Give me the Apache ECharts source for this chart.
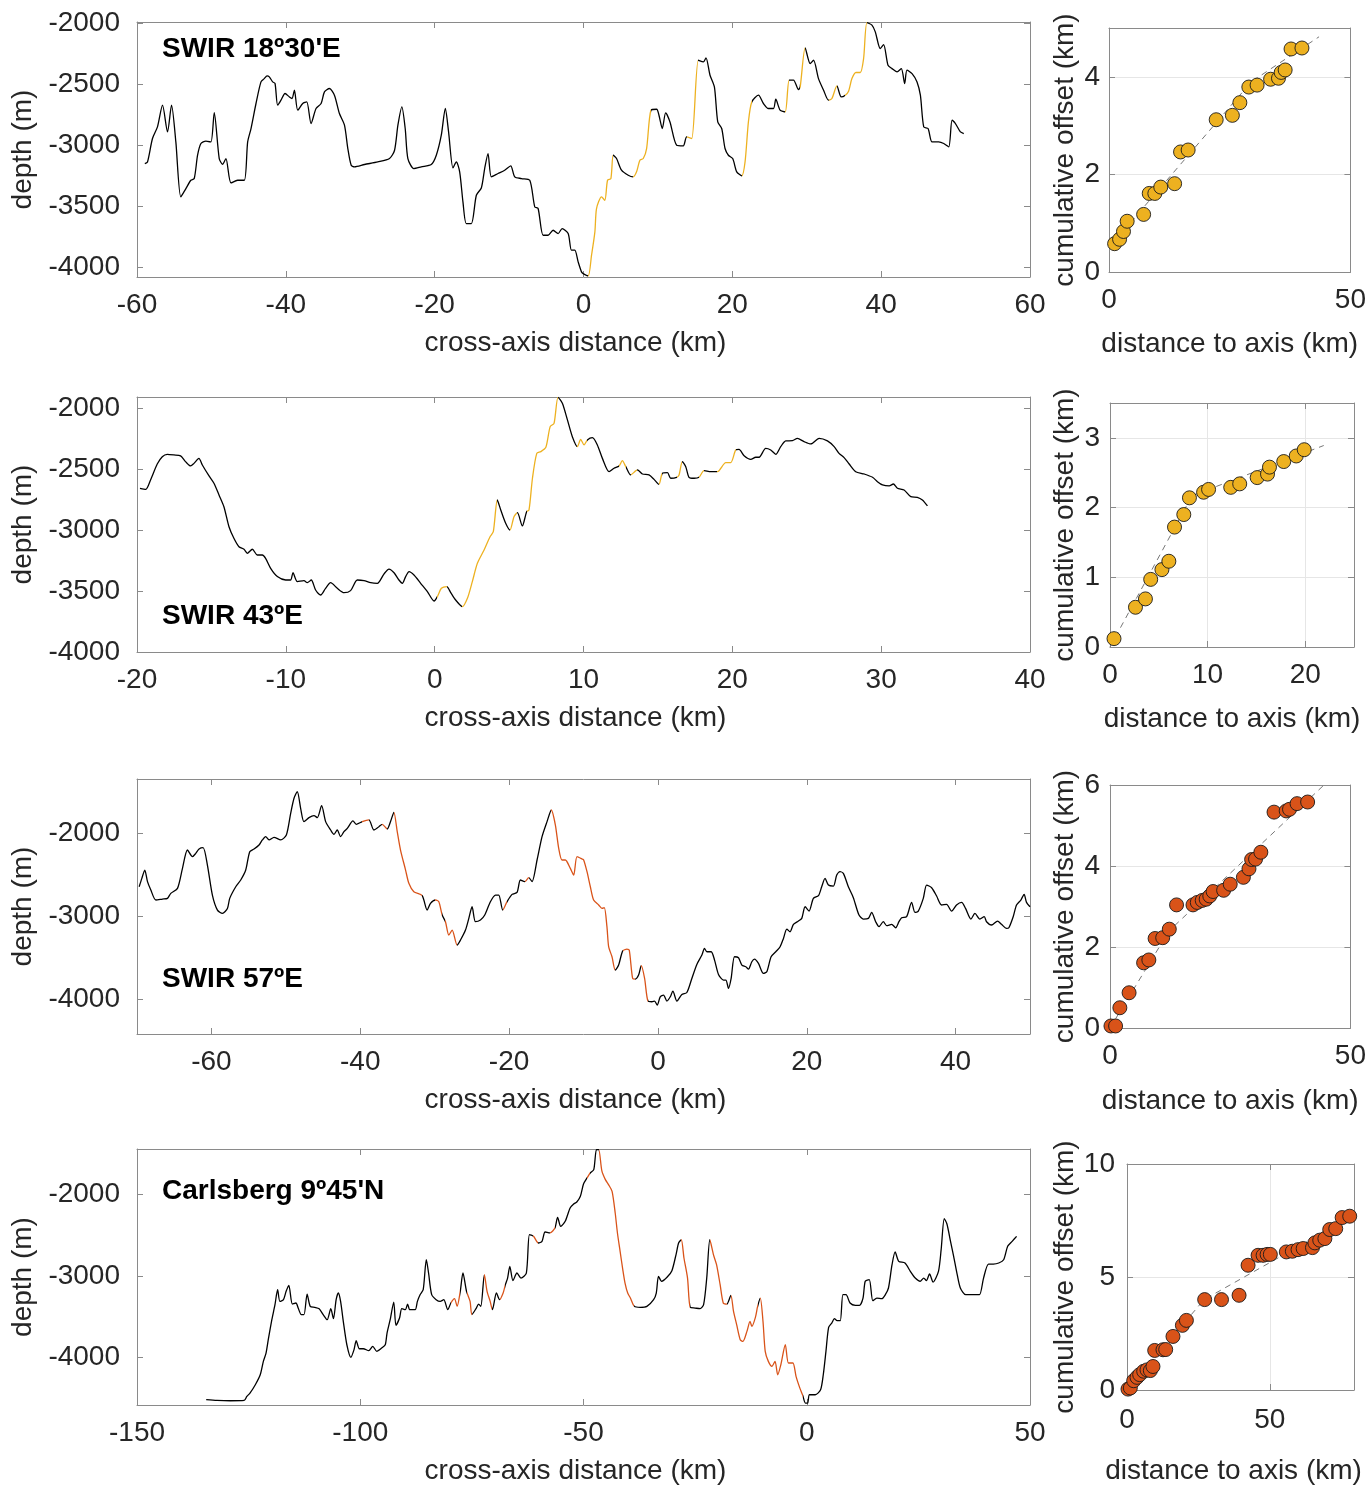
<!DOCTYPE html>
<html>
<head>
<meta charset="utf-8">
<script src="https://cdn.jsdelivr.net/npm/echarts@6/dist/echarts.min.js"></script>
<style>
html, body { margin: 0; padding: 0; background: #fff; }
#chart { width: 1369px; height: 1486px; }
</style>
</head>
<body>
<div id="chart"></div>
<script>
// Bathymetric cross-axis profiles: [distance (km), depth (m)]
const swir18Profile = [
  [-58.95,-3150],[-58.59,-3137],[-57.92,-2945],[-57.25,-2850],[-56.57,-2672],[-55.90,-2891],[-55.36,-2672],[-54.78,-2973],[-54.11,-3423],[-53.43,-3355],
  [-52.76,-3287],[-52.31,-3273],[-51.86,-3082],[-51.41,-2986],[-50.74,-2967],[-50.07,-2973],[-49.62,-2732],[-48.95,-3109],[-48.50,-3156],[-48.05,-3109],
  [-47.37,-3309],[-46.48,-3287],[-45.58,-3287],[-45.13,-2973],[-44.68,-2863],[-44.01,-2658],[-43.34,-2481],[-42.89,-2454],[-42.53,-2432],[-42.22,-2440],
  [-41.77,-2481],[-41.45,-2494],[-41.10,-2672],[-40.65,-2631],[-40.11,-2576],[-39.52,-2604],[-39.17,-2617],[-38.85,-2549],[-38.40,-2713],[-37.73,-2658],
  [-37.19,-2645],[-36.61,-2822],[-35.94,-2699],[-35.26,-2658],[-34.81,-2563],[-34.14,-2535],[-33.47,-2590],[-32.80,-2740],[-32.12,-2836],[-31.67,-3027],
  [-31.22,-3164],[-30.78,-3177],[-29.43,-3158],[-27.64,-3137],[-26.07,-3109],[-25.39,-3041],[-24.94,-2836],[-24.41,-2686],[-23.96,-2863],[-23.60,-3109],
  [-22.79,-3191],[-21.80,-3177],[-20.46,-3158],[-19.78,-3082],[-19.11,-2918],[-18.57,-2699],[-18.13,-2891],[-17.54,-3186],[-17.09,-3137],[-16.64,-3218],
  [-16.20,-3464],[-15.75,-3642],[-15.07,-3642],[-14.40,-3410],[-13.73,-3350],[-13.28,-3191],[-12.83,-3068],[-12.38,-3259],[-11.49,-3232],[-10.59,-3205],
  [-9.78,-3169],[-9.24,-3259],[-8.34,-3273],[-7.22,-3287],[-6.55,-3505],[-6.10,-3519],[-5.43,-3738],[-4.76,-3738],[-4.08,-3697],[-3.41,-3724],
  [-2.87,-3683],[-2.06,-3724],[-1.62,-3860],[-1.17,-3860],[-0.72,-3956],[-0.27,-4038],[-0.04,-4052],[0.63,-4071],[1.08,-3901],[1.53,-3710],
  [1.75,-3519],[2.42,-3423],[2.87,-3451],[3.23,-3287],[3.68,-3273],[3.99,-3082],[4.44,-3109],[5.11,-3205],[6.01,-3246],[6.68,-3259],
  [7.13,-3218],[7.58,-3123],[8.03,-3109],[8.48,-3027],[9.06,-2713],[9.83,-2705],[10.14,-2754],[10.59,-2863],[11.04,-2735],[11.62,-2809],
  [12.52,-3000],[13.41,-3005],[13.86,-2932],[14.54,-2945],[15.43,-2303],[16.11,-2317],[16.46,-2284],[17.00,-2426],[17.59,-2522],[18.04,-2809],
  [18.57,-2863],[19.02,-3027],[19.47,-3082],[20.05,-3109],[20.59,-3218],[21.27,-3251],[21.71,-3137],[22.16,-2809],[22.61,-2645],[23.51,-2590],
  [24.18,-2658],[24.85,-2699],[25.53,-2699],[25.84,-2623],[26.42,-2713],[27.10,-2727],[27.64,-2467],[28.22,-2467],[28.89,-2544],[29.12,-2522],
  [29.79,-2202],[30.46,-2331],[30.91,-2303],[31.58,-2454],[32.26,-2549],[32.93,-2631],[33.38,-2617],[34.05,-2514],[34.63,-2604],[35.17,-2590],
  [35.62,-2557],[36.07,-2454],[36.61,-2404],[37.19,-2404],[37.64,-2289],[38.09,-1995],[38.76,-2016],[39.21,-2071],[39.88,-2208],[40.33,-2175],
  [40.92,-2344],[41.45,-2372],[42.13,-2399],[42.71,-2372],[43.16,-2495],[43.47,-2385],[44.15,-2413],[44.82,-2481],[45.27,-2590],[45.72,-2850],
  [46.30,-2863],[46.84,-2973],[47.73,-2973],[48.41,-2986],[49.08,-3014],[49.53,-2795],[49.98,-2822],[50.65,-2891],[51.10,-2904]
];
const swir43Profile = [
  [-19.80,-2658],[-19.41,-2667],[-19.09,-2590],[-18.64,-2459],[-18.30,-2399],[-17.97,-2380],[-17.52,-2385],[-17.07,-2393],[-16.74,-2440],[-16.40,-2475],
  [-16.17,-2454],[-15.84,-2413],[-15.61,-2467],[-15.16,-2557],[-14.83,-2617],[-14.49,-2713],[-14.16,-2809],[-13.82,-2973],[-13.49,-3068],[-13.15,-3137],
  [-12.81,-3158],[-12.59,-3191],[-12.25,-3158],[-11.92,-3205],[-11.58,-3205],[-11.36,-3232],[-11.02,-3314],[-10.57,-3382],[-10.01,-3410],[-9.68,-3410],
  [-9.52,-3350],[-9.23,-3423],[-8.78,-3415],[-8.56,-3432],[-8.29,-3410],[-8.00,-3492],[-7.66,-3533],[-7.33,-3478],[-6.99,-3432],[-6.54,-3478],
  [-6.09,-3514],[-5.65,-3497],[-5.20,-3410],[-4.75,-3415],[-4.30,-3432],[-3.85,-3437],[-3.41,-3361],[-3.07,-3320],[-2.73,-3350],[-2.40,-3410],
  [-2.17,-3437],[-1.95,-3382],[-1.72,-3341],[-1.39,-3369],[-0.94,-3437],[-0.49,-3505],[-0.04,-3582],[0.18,-3546],[0.45,-3478],[0.81,-3464],
  [1.08,-3514],[1.41,-3574],[1.86,-3628],[2.20,-3560],[2.53,-3423],[2.87,-3273],[3.32,-3164],[3.72,-3055],[3.94,-3014],[4.21,-2754],
  [4.44,-2836],[4.77,-2945],[5.06,-3000],[5.33,-2891],[5.56,-2858],[5.89,-2967],[6.18,-2850],[6.34,-2836],[6.57,-2576],[6.86,-2372],
  [7.13,-2358],[7.47,-2322],[7.76,-2153],[8.02,-2126],[8.29,-1913],[8.58,-1962],[8.92,-2098],[9.25,-2235],[9.59,-2317],[9.81,-2257],
  [10.04,-2303],[10.26,-2262],[10.60,-2243],[10.93,-2303],[11.27,-2413],[11.72,-2522],[12.05,-2494],[12.39,-2475],[12.61,-2432],[12.84,-2481],
  [13.17,-2549],[13.62,-2508],[13.96,-2541],[14.40,-2549],[14.74,-2585],[15.07,-2626],[15.30,-2535],[15.64,-2530],[15.86,-2576],[16.26,-2568],
  [16.42,-2549],[16.64,-2440],[16.87,-2481],[17.09,-2568],[17.43,-2576],[17.76,-2568],[18.10,-2514],[18.55,-2522],[19.00,-2522],[19.56,-2448],
  [19.89,-2448],[20.23,-2344],[20.45,-2339],[20.79,-2391],[21.24,-2421],[21.57,-2404],[21.80,-2404],[22.24,-2331],[22.58,-2344],[22.92,-2380],
  [23.25,-2317],[23.59,-2270],[24.04,-2268],[24.37,-2249],[24.82,-2276],[25.27,-2295],[25.83,-2249],[26.39,-2270],[26.84,-2317],[27.17,-2372],
  [27.51,-2407],[27.85,-2459],[28.29,-2522],[28.85,-2541],[29.42,-2568],[29.75,-2604],[30.09,-2631],[30.54,-2639],[30.82,-2623],[31.09,-2658],
  [31.54,-2672],[31.99,-2727],[32.43,-2732],[32.77,-2754],[33.11,-2803]
];
const swir57Profile = [
  [-69.71,-2647],[-69.35,-2546],[-68.95,-2446],[-68.59,-2586],[-68.14,-2687],[-67.47,-2807],[-66.58,-2795],[-65.91,-2787],[-65.46,-2727],[-64.56,-2667],
  [-63.89,-2426],[-63.22,-2205],[-62.55,-2285],[-62.10,-2245],[-61.66,-2193],[-61.12,-2177],[-60.54,-2386],[-59.87,-2747],[-59.19,-2928],[-58.52,-2968],
  [-57.85,-2908],[-57.54,-2787],[-56.73,-2647],[-56.06,-2566],[-55.39,-2446],[-54.85,-2225],[-54.27,-2193],[-53.60,-2145],[-53.15,-2084],[-52.71,-2044],
  [-52.26,-2084],[-51.59,-2052],[-50.69,-2084],[-49.93,-2024],[-49.35,-1763],[-48.90,-1582],[-48.46,-1502],[-48.01,-1703],[-47.56,-1863],[-46.89,-1815],
  [-46.22,-1791],[-45.77,-1815],[-45.19,-1671],[-44.65,-1863],[-43.98,-1964],[-43.53,-2016],[-43.09,-1964],[-42.64,-2044],[-42.19,-1984],[-41.74,-1944],
  [-40.98,-1855],[-40.54,-1896],[-39.73,-1863],[-38.84,-1843],[-38.17,-1964],[-37.49,-1924],[-37.05,-1896],[-36.38,-1952],[-35.93,-1863],[-35.48,-1751],
  [-35.03,-1984],[-34.59,-2205],[-33.91,-2446],[-33.47,-2606],[-32.80,-2707],[-31.68,-2755],[-31.01,-2928],[-30.56,-2847],[-29.89,-2807],[-29.44,-2827],
  [-28.99,-2988],[-28.55,-3068],[-28.10,-3229],[-27.65,-3169],[-26.98,-3349],[-26.53,-3289],[-25.86,-3169],[-25.41,-3028],[-24.97,-2888],[-24.52,-3068],
  [-23.85,-3048],[-23.27,-2988],[-22.51,-2827],[-21.83,-2747],[-21.39,-2747],[-20.85,-2928],[-20.27,-2827],[-19.60,-2739],[-18.93,-2715],[-18.48,-2566],
  [-17.90,-2586],[-17.36,-2538],[-16.91,-2586],[-16.24,-2325],[-15.57,-2044],[-14.90,-1863],[-14.32,-1723],[-13.78,-1904],[-13.33,-2185],[-12.89,-2325],
  [-12.44,-2325],[-11.77,-2426],[-11.32,-2506],[-10.87,-2285],[-10.20,-2313],[-9.98,-2325],[-9.53,-2466],[-9.08,-2647],[-8.64,-2807],[-7.96,-2867],
  [-7.52,-2908],[-7.20,-2900],[-6.85,-3128],[-6.62,-3369],[-6.17,-3490],[-5.73,-3651],[-5.28,-3590],[-4.74,-3422],[-4.16,-3398],[-3.85,-3410],
  [-3.40,-3751],[-3.04,-3759],[-2.60,-3711],[-2.24,-3598],[-1.79,-3751],[-1.34,-4024],[-0.81,-4032],[-0.45,-4024],[-0.09,-4072],[0.31,-3972],
  [0.76,-3952],[1.21,-4024],[1.66,-3972],[2.01,-3904],[2.55,-4024],[3.22,-3944],[3.89,-3920],[4.56,-3751],[5.23,-3582],[5.91,-3470],
  [6.26,-3390],[6.58,-3430],[7.16,-3430],[7.61,-3530],[8.14,-3703],[8.81,-3771],[9.13,-3771],[9.49,-3871],[9.84,-3751],[10.29,-3490],
  [10.83,-3502],[11.28,-3590],[11.81,-3610],[12.17,-3639],[12.62,-3550],[12.98,-3518],[13.51,-3570],[14.18,-3691],[14.63,-3671],[15.21,-3490],
  [15.84,-3430],[16.42,-3369],[16.87,-3269],[17.32,-3157],[17.76,-3189],[18.21,-3100],[18.88,-3060],[19.33,-3028],[19.78,-2888],[20.31,-2940],
  [20.89,-2787],[21.57,-2755],[22.01,-2647],[22.46,-2546],[22.91,-2627],[23.58,-2639],[24.03,-2506],[24.47,-2466],[24.92,-2486],[25.59,-2647],
  [26.26,-2779],[27.02,-2988],[27.61,-3036],[28.28,-3028],[28.72,-2956],[29.26,-3068],[29.71,-3128],[30.29,-3068],[30.74,-3116],[31.41,-3100],
  [31.95,-3141],[32.39,-3068],[32.75,-3020],[33.42,-3008],[34.09,-2835],[34.54,-2956],[34.99,-2940],[35.66,-2787],[36.11,-2627],[36.78,-2659],
  [37.45,-2759],[38.12,-2867],[38.79,-2859],[39.46,-2940],[40.13,-2867],[40.81,-2835],[41.34,-2908],[42.06,-3036],[42.60,-2968],[43.27,-3036],
  [43.85,-3008],[44.16,-3068],[44.83,-3108],[45.64,-3060],[46.17,-3100],[46.85,-3149],[47.16,-3141],[47.74,-3008],[48.19,-2867],[48.77,-2807],
  [49.21,-2739],[49.53,-2835],[50.00,-2888]
];
const carlsbergProfile = [
  [-134.5,-4515],[-132.1,-4524],[-129.1,-4528],[-126.0,-4524],[-125.4,-4474],[-124.7,-4434],[-123.5,-4331],[-122.4,-4209],[-121.7,-4045],[-121.1,-3943],
  [-120.6,-3779],[-119.8,-3534],[-119.1,-3350],[-118.5,-3166],[-118.0,-3309],[-117.2,-3288],[-116.6,-3186],[-116.0,-3112],[-115.2,-3342],[-114.4,-3329],
  [-113.9,-3391],[-113.2,-3472],[-112.6,-3472],[-111.9,-3219],[-111.2,-3370],[-110.2,-3382],[-109.2,-3399],[-108.3,-3472],[-107.4,-3534],[-106.6,-3399],
  [-106.0,-3521],[-105.4,-3288],[-104.9,-3206],[-104.4,-3309],[-103.8,-3554],[-103.0,-3841],[-102.1,-3996],[-101.4,-3902],[-100.9,-3791],[-100.2,-3890],
  [-99.3,-3890],[-98.1,-3914],[-97.2,-3861],[-96.3,-3922],[-95.2,-3881],[-94.4,-3841],[-94.0,-3697],[-93.3,-3534],[-92.5,-3317],[-92.0,-3603],
  [-91.2,-3513],[-90.7,-3399],[-89.9,-3411],[-89.4,-3342],[-88.9,-3411],[-87.7,-3411],[-87.2,-3309],[-86.6,-3227],[-85.9,-3166],[-85.2,-2798],
  [-84.7,-2961],[-84.0,-3227],[-83.0,-3288],[-82.1,-3309],[-81.3,-3288],[-80.4,-3411],[-79.7,-3329],[-78.9,-3276],[-78.3,-3370],[-77.6,-3186],
  [-77.0,-2961],[-76.2,-3186],[-75.4,-3309],[-75.0,-3472],[-74.0,-3391],[-73.5,-3342],[-73.0,-3370],[-72.2,-2982],[-71.6,-3186],[-70.9,-3309],
  [-70.4,-3411],[-69.5,-3206],[-68.8,-3288],[-68.0,-3206],[-67.5,-3104],[-67.0,-3023],[-66.5,-2879],[-65.8,-3055],[-64.9,-2961],[-64.0,-3023],
  [-62.8,-2961],[-62.1,-2491],[-61.2,-2511],[-60.1,-2593],[-59.3,-2573],[-58.6,-2458],[-57.5,-2470],[-56.4,-2409],[-55.8,-2278],[-55.1,-2389],
  [-54.1,-2327],[-53.0,-2164],[-52.2,-2115],[-51.5,-2090],[-50.7,-2020],[-50.0,-1869],[-49.2,-1795],[-48.5,-1734],[-47.7,-1693],[-47.1,-1448],
  [-46.6,-1448],[-45.9,-1705],[-45.1,-1816],[-44.4,-1877],[-43.6,-1959],[-42.9,-2225],[-42.4,-2470],[-41.8,-2695],[-41.2,-2920],[-40.7,-3084],
  [-40.1,-3207],[-39.5,-3268],[-38.6,-3370],[-37.3,-3382],[-35.8,-3370],[-34.3,-3288],[-33.7,-3207],[-33.2,-3002],[-32.5,-3063],[-31.3,-3014],
  [-30.2,-2933],[-29.2,-2716],[-28.7,-2593],[-28.1,-2552],[-27.5,-2777],[-26.7,-3023],[-26.1,-3382],[-25.0,-3391],[-23.9,-3399],[-23.1,-3350],
  [-22.4,-3023],[-21.7,-2552],[-20.9,-2736],[-20.2,-2859],[-19.4,-3104],[-18.7,-3329],[-17.9,-3342],[-17.0,-3235],[-16.4,-3432],[-15.7,-3595],
  [-14.9,-3779],[-14.3,-3800],[-13.4,-3677],[-12.7,-3554],[-12.3,-3616],[-11.5,-3505],[-11.0,-3370],[-10.4,-3268],[-9.8,-3554],[-9.3,-3922],
  [-8.6,-4045],[-7.8,-4106],[-7.1,-4045],[-6.5,-4209],[-5.8,-4086],[-4.8,-3841],[-4.1,-4065],[-3.1,-4065],[-2.4,-4229],[-1.6,-4364],
  [-0.9,-4462],[-0.3,-4556],[0.2,-4556],[0.6,-4454],[1.9,-4454],[3.1,-4393],[3.7,-4209],[4.3,-3922],[4.9,-3628],[5.6,-3575],
  [6.2,-3521],[6.8,-3546],[7.5,-3546],[8.1,-3227],[8.8,-3227],[9.7,-3329],[10.9,-3358],[11.8,-3358],[12.6,-3268],[13.1,-3063],
  [14.0,-3043],[14.8,-3301],[15.7,-3268],[16.8,-3276],[17.6,-3227],[18.3,-3145],[19.1,-2859],[19.8,-2703],[20.6,-2818],[22.0,-2838],
  [23.2,-2941],[24.3,-3023],[25.4,-3063],[26.2,-3023],[26.8,-3055],[27.5,-2973],[28.3,-3072],[29.5,-2941],[30.1,-2675],[30.8,-2294],
  [31.4,-2360],[32.2,-2573],[32.9,-2757],[33.7,-2982],[34.4,-3145],[35.6,-3227],[36.7,-3227],[37.8,-3227],[38.7,-3227],[39.6,-3023],
  [40.7,-2851],[41.8,-2851],[43.0,-2838],[44.1,-2798],[45.0,-2634],[46.0,-2573],[47.0,-2511]
];

// Fault-scarp stretches along each profile, [from, to] in km
const swir18Faults = [[0.6,3.99],[6.68,9.06],[13.86,15.43],[21.27,22.61],[27.1,27.64],[29.12,29.79],[32.93,34.05],[35.17,38.09]];
const swir43Faults = [[0.18,0.81],[1.86,4.21],[5.06,5.56],[6.18,8.29],[9.59,10.26],[12.39,12.84],[13.17,13.62],[15.07,15.3],[16.26,16.64],[17.76,18.1],[19.0,20.23]];
const swir57Faults = [[-39.73,-38.84],[-37.05,-36.38],[-35.48,-31.68],[-29.89,-28.99],[-28.55,-26.98],[-20.85,-20.27],[-17.9,-17.36],[-14.32,-5.73],[-4.74,-3.04],[-2.24,-1.34]];
const carlsbergFaults = [[-79.7,-77.6],[-76.2,-75.0],[-72.2,-70.4],[-68.8,-67.5],[-61.2,-60.1],[-57.5,-56.4],[-49.2,-48.5],[-46.6,-38.6],[-28.1,-26.1],[-21.7,-17.9],[-17.0,-11.0],[-10.4,-0.9]];

// Cumulative fault offset vs distance to axis: [distance (km), offset (km)]
const swir18Offsets = [[1.16,0.58],[2.19,0.67],[3.0,0.83],[3.76,1.04],[7.17,1.18],[8.33,1.61],[9.49,1.61],[10.72,1.74],[13.59,1.81],[14.82,2.46],[16.39,2.50],
  [22.2,3.12],[25.55,3.21],[27.1,3.47],[28.96,3.79],[30.67,3.83],[33.47,3.95],[35.1,3.97],[35.66,4.09],[36.48,4.14],[37.7,4.57],[39.96,4.59]];
const swir43Offsets = [[0.41,0.12],[2.61,0.57],[3.63,0.69],[4.17,0.97],[5.32,1.11],[6.03,1.23],[6.61,1.72],[7.56,1.90],[8.14,2.14],[9.59,2.22],
  [10.10,2.26],[12.37,2.29],[13.29,2.34],[15.08,2.43],[16.14,2.48],[16.34,2.58],[17.80,2.66],[19.08,2.74],[19.90,2.83]];
const swir57Offsets = [[0.2,0.05],[1.16,0.05],[2.05,0.50],[3.97,0.87],[6.99,1.61],[8.08,1.68],[9.38,2.21],[10.96,2.23],[12.33,2.44],[13.84,3.04],
  [17.26,3.04],[18.15,3.10],[19.18,3.15],[20.0,3.18],[20.75,3.26],[21.44,3.37],[23.63,3.40],[25.0,3.55],[27.74,3.72],[28.9,3.93],
  [29.45,4.16],[30.27,4.17],[31.37,4.34],[34.11,5.33],[36.64,5.36],[37.33,5.40],[38.9,5.54],[41.1,5.58]];
const carlsbergOffsets = [[0.35,0.04],[1.17,0.09],[2.34,0.41],[3.5,0.56],[4.44,0.68],[5.84,0.83],[7.0,0.89],[8.18,0.86],[9.1,1.04],[9.7,1.75],
  [12.6,1.78],[13.55,1.79],[16.1,2.37],[19.4,2.86],[20.8,3.08],[27.2,4.0],[33.1,4.0],[39.25,4.19],[42.4,5.52],[45.9,5.96],
  [47.66,5.96],[49.07,6.0],[50.2,6.0],[55.8,6.11],[57.9,6.14],[59.9,6.21],[61.7,6.26],[64.95,6.30],[65.8,6.51],[67.5,6.63],
  [69.3,6.70],[71.0,7.10],[73.1,7.14],[75.35,7.63],[78.0,7.69]];

// Linear trends through the offsets
const swir18Trend = [[0,0.5],[29.5,3.9],[43.5,4.82]];
const swir43Trend = [[0,0],[8.4,2.17],[21.9,2.89]];
const swir57Trend = [[0,0],[12.3,2.4],[44.5,6.0]];
const carlsbergTrend = [[0,0],[27,4.0],[79,7.7]];

// Tick values
const swir18DistTicks = [-60,-40,-20,0,20,40,60];
const swir43DistTicks = [-20,-10,0,10,20,30,40];
const swir57DistTicks = [-60,-40,-20,0,20,40];
const carlsbergDistTicks = [-150,-100,-50,0,50];
const depthTicksFine = [-4000,-3500,-3000,-2500,-2000];
const depthTicksCoarse = [-4000,-3000,-2000];
const swir18AxisTicks = [0,50], swir18OffsetTicks = [0,2,4];
const swir43AxisTicks = [0,10,20], swir43OffsetTicks = [0,1,2,3];
const swir57AxisTicks = [0,50], swir57OffsetTicks = [0,2,4,6];
const carlsbergAxisTicks = [0,50], carlsbergOffsetTicks = [0,5,10];

const YELLOW = '#EDB120';
const RED = '#D95319';
const FONT = '"Liberation Sans", Arial, Helvetica, sans-serif';
const TEXT = '#262626';
const BOX = '#8a8a8a';

const panels = [
  { title: "SWIR 18º30'E", titleTop: 35, profile: swir18Profile, faults: swir18Faults, offsets: swir18Offsets, trend: swir18Trend, color: YELLOW,
    grid: { left: 137, top: 22, width: 893, height: 255 }, xRange: [-60, 60], xTicks: swir18DistTicks, yRange: [-4080, -1990], yTicks: depthTicksFine,
    sGrid: { left: 1109, top: 28, width: 244, height: 244 }, sxRange: [0, 50], sxTicks: swir18AxisTicks, sxStep: 50, syRange: [0, 5], syTicks: swir18OffsetTicks, syStep: 2,
    sNameGapX: 58, sNameGapY: 30, sLabelX: 14, sLabelY: 9, sNameShift: 0 },
  { title: "SWIR 43ºE", titleTop: 602, profile: swir43Profile, faults: swir43Faults, offsets: swir43Offsets, trend: swir43Trend, color: YELLOW,
    grid: { left: 137, top: 397, width: 893, height: 255 }, xRange: [-20, 40], xTicks: swir43DistTicks, yRange: [-4000, -1910], yTicks: depthTicksFine,
    sGrid: { left: 1110, top: 403, width: 244, height: 244 }, sxRange: [0, 25], sxTicks: swir43AxisTicks, sxStep: 10, syRange: [0, 3.5], syTicks: swir43OffsetTicks, syStep: 1,
    sNameGapX: 58, sNameGapY: 31, sLabelX: 14, sLabelY: 10, sNameShift: 0 },
  { title: "SWIR 57ºE", titleTop: 965, profile: swir57Profile, faults: swir57Faults, offsets: swir57Offsets, trend: swir57Trend, color: RED,
    grid: { left: 137, top: 779, width: 893, height: 255 }, xRange: [-70, 50], xTicks: swir57DistTicks, yRange: [-4420, -1350], yTicks: depthTicksCoarse,
    sGrid: { left: 1110, top: 785, width: 243, height: 243 }, sxRange: [0, 50], sxTicks: swir57AxisTicks, sxStep: 50, syRange: [0, 6], syTicks: swir57OffsetTicks, syStep: 2,
    sNameGapX: 59, sNameGapY: 31, sLabelX: 14, sLabelY: 10, sNameShift: 0 },
  { title: "Carlsberg 9º45'N", titleTop: 1177, profile: carlsbergProfile, faults: carlsbergFaults, offsets: carlsbergOffsets, trend: carlsbergTrend, color: RED,
    grid: { left: 137, top: 1149, width: 893, height: 256 }, xRange: [-150, 50], xTicks: carlsbergDistTicks, yRange: [-4580, -1440], yTicks: depthTicksCoarse,
    sGrid: { left: 1127, top: 1164, width: 227, height: 226 }, sxRange: [0, 79.5], sxTicks: carlsbergAxisTicks, sxStep: 50, syRange: [0, 10], syTicks: carlsbergOffsetTicks, syStep: 5,
    sNameGapX: 67, sNameGapY: 48, sLabelX: 16, sLabelY: 12, sNameShift: 14 }
];

const grids = [], xAxes = [], yAxes = [], series = [], visualMaps = [], graphics = [];

function labelledAxis(gridIndex, position, range, ticks, name, nameGap, margin, step, shift) {
  return {
    type: 'value', gridIndex, position, min: range[0], max: range[1],
    name, nameLocation: 'middle', nameGap,
    nameTextStyle: { fontFamily: FONT, fontSize: 28, color: TEXT, padding: [0, shift || 0, 0, 0] },
    axisLine: { show: true, onZero: false, lineStyle: { color: BOX, width: 1 } },
    axisTick: { show: true, inside: true, length: 6, customValues: ticks, lineStyle: { color: BOX } },
    axisLabel: { show: true, customValues: ticks, margin, fontFamily: FONT, fontSize: 28, color: TEXT,
                 formatter: v => String(v) },
    splitLine: step ? { show: true, lineStyle: { color: '#e6e6e6', width: 1 } } : { show: false },
    interval: step ? step : undefined
  };
}
function mirrorAxis(gridIndex, position, range, ticks) {
  return {
    type: 'value', gridIndex, position, min: range[0], max: range[1],
    axisLine: { show: true, onZero: false, lineStyle: { color: BOX, width: 1 } },
    axisTick: { show: true, inside: true, length: 6, customValues: ticks, lineStyle: { color: BOX } },
    axisLabel: { show: false }, splitLine: { show: false }
  };
}

panels.forEach((p) => {
  // depth profile, with fault scarps coloured along the distance axis
  const g = grids.length;
  grids.push(Object.assign({ containLabel: false }, p.grid));
  const xi = xAxes.length;
  xAxes.push(labelledAxis(g, 'bottom', p.xRange, p.xTicks, 'cross-axis distance (km)', 52, 14, 0, 16));
  xAxes.push(mirrorAxis(g, 'top', p.xRange, p.xTicks));
  const yi = yAxes.length;
  yAxes.push(labelledAxis(g, 'left', p.yRange, p.yTicks, 'depth (m)', 95, 17));
  yAxes.push(mirrorAxis(g, 'right', p.yRange, p.yTicks));
  visualMaps.push({
    type: 'piecewise', show: false, dimension: 0, seriesIndex: series.length,
    pieces: p.faults.map(([a, b]) => ({ gte: a, lte: b, color: p.color })),
    outOfRange: { color: '#000000' }
  });
  series.push({
    type: 'line', xAxisIndex: xi, yAxisIndex: yi, data: p.profile,
    showSymbol: false, symbol: 'none', smooth: 0.25, animation: false,
    lineStyle: { width: 1.3 }, z: 3
  });
  graphics.push({
    type: 'text', left: 162, top: p.titleTop,
    style: { text: p.title, font: 'bold 28px ' + FONT, fill: '#000' }, z: 10
  });

  // cumulative offset vs distance to axis
  const sg = grids.length;
  grids.push(Object.assign({ containLabel: false }, p.sGrid));
  const sxi = xAxes.length;
  xAxes.push(labelledAxis(sg, 'bottom', p.sxRange, p.sxTicks, 'distance to axis (km)', p.sNameGapX, p.sLabelX, p.sxStep, p.sNameShift));
  xAxes.push(mirrorAxis(sg, 'top', p.sxRange, p.sxTicks));
  const syi = yAxes.length;
  yAxes.push(labelledAxis(sg, 'left', p.syRange, p.syTicks, 'cumulative offset (km)', p.sNameGapY, p.sLabelY, p.syStep));
  yAxes.push(mirrorAxis(sg, 'right', p.syRange, p.syTicks));
  series.push({
    type: 'line', xAxisIndex: sxi, yAxisIndex: syi, data: p.trend,
    showSymbol: false, symbol: 'none', animation: false, z: 2,
    lineStyle: { color: '#777', width: 1, type: [6, 5] }
  });
  series.push({
    type: 'scatter', xAxisIndex: sxi, yAxisIndex: syi, data: p.offsets,
    symbolSize: 14, animation: false, z: 4,
    itemStyle: { color: p.color, borderColor: '#1a1a1a', borderWidth: 0.9, opacity: 1 }
  });
});

const chart = echarts.init(document.getElementById('chart'), null, { renderer: 'canvas' });
chart.setOption({
  backgroundColor: '#ffffff',
  animation: false,
  grid: grids,
  xAxis: xAxes,
  yAxis: yAxes,
  visualMap: visualMaps,
  series,
  graphic: graphics
});
</script>
</body>
</html>
